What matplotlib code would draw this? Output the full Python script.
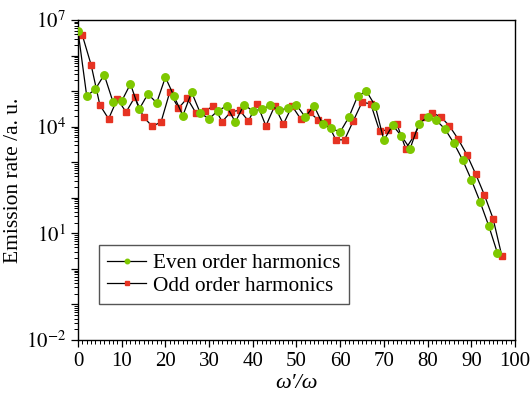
import numpy as np
import matplotlib
matplotlib.use("Agg")
import matplotlib.pyplot as plt
from matplotlib.ticker import MultipleLocator, LogLocator, FuncFormatter, NullFormatter

plt.rcParams['font.family'] = ['Liberation Serif', 'DejaVu Serif']
plt.rcParams['mathtext.fontset'] = 'stix'

# harmonic orders and log10 of emission rate
even_order = np.arange(0, 97, 2)
even_log = [6.69, 4.86, 5.06, 5.46, 4.70, 4.72, 5.20, 4.49, 4.92, 4.67,
            5.39, 4.85, 4.31, 4.97, 4.38, 4.22, 4.45, 4.58, 4.13, 4.62,
            4.44, 4.49, 4.60, 4.46, 4.52, 4.61, 4.27, 4.59, 4.07, 3.95,
            3.85, 4.27, 4.86, 5.00, 4.59, 3.62, 4.04, 3.74, 3.38, 4.08,
            4.27, 4.18, 3.93, 3.54, 3.07, 2.51, 1.89, 1.21, 0.44]

odd_order = np.arange(1, 98, 2)
odd_log = [6.57, 5.74, 4.61, 4.22, 4.78, 4.41, 4.83, 4.27, 4.01, 4.13,
           4.97, 4.52, 4.80, 4.38, 4.44, 4.58, 4.14, 4.42, 4.46, 4.16,
           4.64, 4.02, 4.58, 4.07, 4.58, 4.21, 4.40, 4.19, 4.14, 3.63,
           3.63, 4.16, 4.69, 4.64, 3.88, 3.91, 4.07, 3.38, 3.76, 4.28,
           4.39, 4.28, 4.02, 3.65, 3.21, 2.67, 2.08, 1.41, 0.36]

even_rate = 10.0 ** np.array(even_log)
odd_rate = 10.0 ** np.array(odd_log)

fig = plt.figure(figsize=(5.32, 3.96), dpi=100)
ax = fig.add_axes([0.1466, 0.1414, 0.8214, 0.8081])

ax.plot(even_order, even_rate, color='black', lw=0.9, marker='o', ms=5.4,
        mfc='#7ec800', mec='#7ec800', label='Even order harmonics', zorder=3)
ax.plot(odd_order, odd_rate, color='black', lw=0.9, marker='s', ms=5.0,
        mfc='#e63322', mec='#e63322', label='Odd order harmonics', zorder=2)

ax.set_yscale('log')
ax.set_xlim(0, 100)
ax.set_ylim(1e-2, 1e7)

ax.xaxis.set_major_locator(MultipleLocator(10))
ax.xaxis.set_minor_locator(MultipleLocator(1))
ax.yaxis.set_major_locator(LogLocator(base=10, numticks=20))
ax.yaxis.set_minor_locator(LogLocator(base=10, subs=np.arange(2, 10), numticks=20))
ax.yaxis.set_minor_formatter(NullFormatter())


def fmt_y(v, pos):
    e = int(round(np.log10(v)))
    if (e + 2) % 3 == 0:
        return r'$10^{%d}$' % e
    return ''


ax.yaxis.set_major_formatter(FuncFormatter(fmt_y))

ax.tick_params(which='both', direction='out', top=False, right=False, labelsize=15)
ax.tick_params(which='major', length=5, width=0.9)
ax.tick_params(which='minor', length=3, width=0.7)
for s in ax.spines.values():
    s.set_linewidth(1.0)

ax.set_xlabel('ω′/ω', fontsize=16, fontstyle='italic', labelpad=2)
ax.set_ylabel('Emission rate /a. u.', fontsize=15.5, labelpad=2)

leg = ax.legend(loc='lower left', bbox_to_anchor=(0.048, 0.1125), borderaxespad=0,
                fontsize=15.3, frameon=True, fancybox=False, edgecolor='#555555',
                framealpha=1, handlelength=1.8, handletextpad=0.35, borderpad=0.4,
                labelspacing=0.12, markerscale=0.6)
leg.get_frame().set_linewidth(1.0)

fig.savefig('out.png', dpi=100)
